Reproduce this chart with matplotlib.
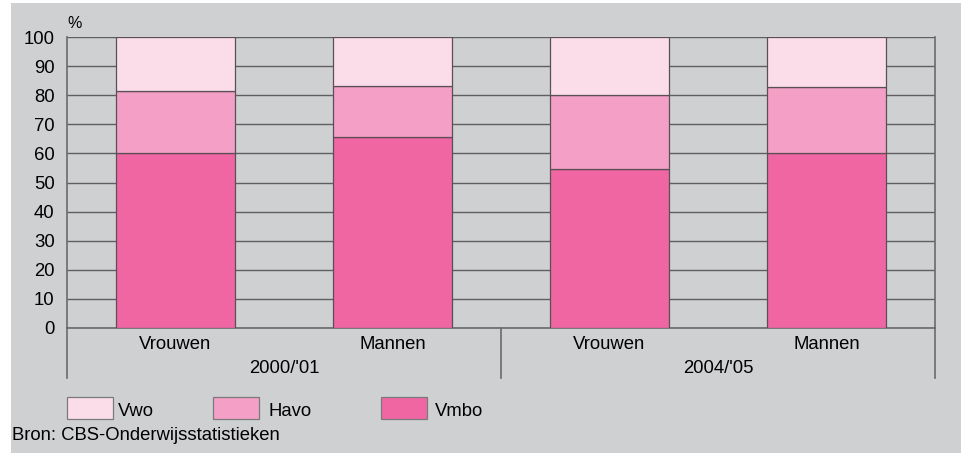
import matplotlib
matplotlib.use("Agg")
import matplotlib.pyplot as plt
from matplotlib.patches import Rectangle
from matplotlib.lines import Line2D

plt.rcParams['font.family'] = ['Liberation Sans', 'DejaVu Sans']

# data (percentages)
categories = ["Vrouwen", "Mannen", "Vrouwen", "Mannen"]
years = ["2000/'01", "2004/'05"]
vmbo = [60.0, 65.5, 54.5, 60.0]
havo = [21.3, 17.8, 25.5, 22.8]
vwo = [100 - a - b for a, b in zip(vmbo, havo)]
colors = {"Vmbo": "#ef66a3", "Havo": "#f4a0c6", "Vwo": "#fbdde9"}

FS = 13.3
W, H = 961, 453
fig = plt.figure(figsize=(W / 100, H / 100), dpi=100, facecolor="white")
# grey panel
fig.patches.append(Rectangle((11 / W, 0), 1 - 11 / W, 1 - 3 / H,
                             transform=fig.transFigure, facecolor="#cfd0d2",
                             edgecolor="none", zorder=-10))

def px(x, y):
    return x / W, 1 - y / H

ax = fig.add_axes([67 / W, (H - 328) / H, (935 - 67) / W, (328 - 37) / H])
ax.set_facecolor("none")

x = list(range(len(categories)))
w = 0.55
edge = "#5a4f55"
ax.bar(x, vmbo, w, color=colors["Vmbo"], edgecolor=edge, linewidth=0.9, zorder=3)
ax.bar(x, havo, w, bottom=vmbo, color=colors["Havo"], edgecolor=edge, linewidth=0.9, zorder=3)
ax.bar(x, vwo, w, bottom=[a + b for a, b in zip(vmbo, havo)], color=colors["Vwo"],
       edgecolor=edge, linewidth=0.9, zorder=3)

ax.set_xlim(-0.5, 3.5)
ax.set_ylim(0, 100)
ax.set_yticks(range(0, 101, 10))
ax.tick_params(axis="y", length=0, pad=9, labelsize=FS)
ax.set_xticks([])
ax.yaxis.grid(True, color="#5f5f62", linewidth=1.0, zorder=0)
ax.set_axisbelow(True)
ax.spines["top"].set_visible(False)
for s in ["left", "right", "bottom"]:
    ax.spines[s].set_color("#6a6a6d")
    ax.spines[s].set_linewidth(1.2)

# category labels and group separators
trans = ax.get_xaxis_transform()
for xi, c in zip(x, categories):
    ax.text(xi, -0.058, c, transform=trans, ha="center", va="center", fontsize=FS)
for g, yr in enumerate(years):
    ax.text(2 * g + 0.5, -0.138, yr, transform=trans, ha="center", va="center", fontsize=FS)
ylow = -50 / 291
for xs in [-0.5, 1.5, 3.5]:
    ax.add_line(Line2D([xs, xs], [0, ylow], transform=trans, color="#6a6a6d",
                       linewidth=1.2, clip_on=False))

ax.text(0.0, 1.045, "%", transform=ax.transAxes, ha="left", va="center", fontsize=11.5)

# legend
legend_pos = [(67, "Vwo", 118), (213, "Havo", 269), (381, "Vmbo", 435)]
for lx, name, tx0 in legend_pos:
    x0, y0 = px(lx, 419)
    fig.patches.append(Rectangle((x0, y0), 46 / W, 22 / H, transform=fig.transFigure,
                                 facecolor=colors[name], edgecolor="#7a7a7d", linewidth=0.9))
    tx, ty = px(tx0, 412)
    fig.text(tx, ty, name, ha="left", va="center", fontsize=FS)

sx, sy = px(12, 436)
fig.text(sx, sy, "Bron: CBS-Onderwijsstatistieken", ha="left", va="center", fontsize=FS)

fig.savefig("out.png", dpi=100, facecolor=fig.get_facecolor())
